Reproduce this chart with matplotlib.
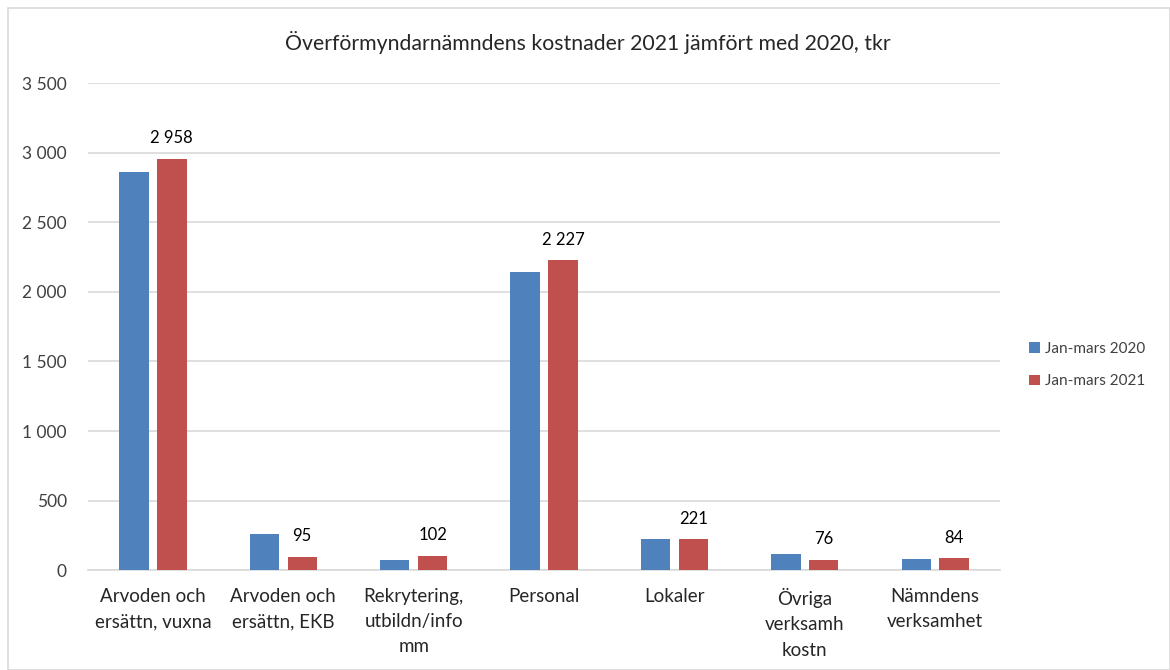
import matplotlib.pyplot as plt
import numpy as np
from matplotlib.patches import Rectangle

categories = ['Arvoden och\nersättn, vuxna', 'Arvoden och\nersättn, EKB',
              'Rekrytering,\nutbildn/info\nmm', 'Personal', 'Lokaler',
              'Övriga\nverksamh\nkostn', 'Nämndens\nverksamhet']
values_2020 = [2858, 262, 76, 2142, 225, 115, 78]
values_2021 = [2958, 95, 102, 2227, 221, 76, 84]
series_names = ['Jan-mars 2020', 'Jan-mars 2021']
yticks = [0, 500, 1000, 1500, 2000, 2500, 3000, 3500]

plt.rcParams['font.family'] = ['Lato', 'DejaVu Sans']

blue = '#4f81bd'
red = '#c0504d'
text_col = '#262626'

fig = plt.figure(figsize=(11.7, 6.7), dpi=100)
fig.patches.append(Rectangle((8 / 1170, 0), 1 - 8 / 1170, 1 - 8 / 670,
                             transform=fig.transFigure, fill=False,
                             edgecolor='#d9d9d9', linewidth=1.2))
ax = fig.add_axes([0.075, 0.149, 0.78, 0.727])

x = np.arange(len(categories))
w = 0.225
off = 0.145
ax.bar(x - off, values_2020, w, color=blue, label=series_names[0], zorder=3)
bars21 = ax.bar(x + off, values_2021, w, color=red, label=series_names[1], zorder=3)

for b, v in zip(bars21, values_2021):
    ax.annotate(f'{v:,}'.replace(',', ' '), (b.get_x() + b.get_width() / 2, v),
                xytext=(0, 9), textcoords='offset points', ha='center', va='bottom',
                fontsize=12, color='black')

ax.set_xlim(-0.5, len(categories) - 0.5)
ax.set_ylim(0, 3500)
ax.set_yticks(yticks)
ax.set_yticklabels([f'{t:,}'.replace(',', ' ') for t in yticks], fontsize=12.5, color='#404040')
ax.set_xticks(x)
ax.set_xticklabels(categories, fontsize=13.5, color=text_col, linespacing=1.58)
ax.tick_params(axis='both', length=0)
ax.tick_params(axis='y', pad=15)
ax.tick_params(axis='x', pad=13)
ax.grid(axis='y', color='#d9d9d9', linewidth=1.2, zorder=0)
for s in ['top', 'right', 'left']:
    ax.spines[s].set_visible(False)
ax.spines['bottom'].set_color('#d9d9d9')
ax.spines['bottom'].set_linewidth(1.2)

fig.text(0.502, 0.937, 'Överförmyndarnämndens kostnader 2021 jämfört med 2020, tkr',
         ha='center', va='center', fontsize=15.3, color=text_col)

fig.legend(loc='center left', bbox_to_anchor=(0.868, 0.455), frameon=False,
           fontsize=11, handlelength=0.7, handleheight=0.7, labelspacing=1.2,
           handletextpad=0.3, labelcolor='#404040')

plt.savefig('out.png', dpi=100)
